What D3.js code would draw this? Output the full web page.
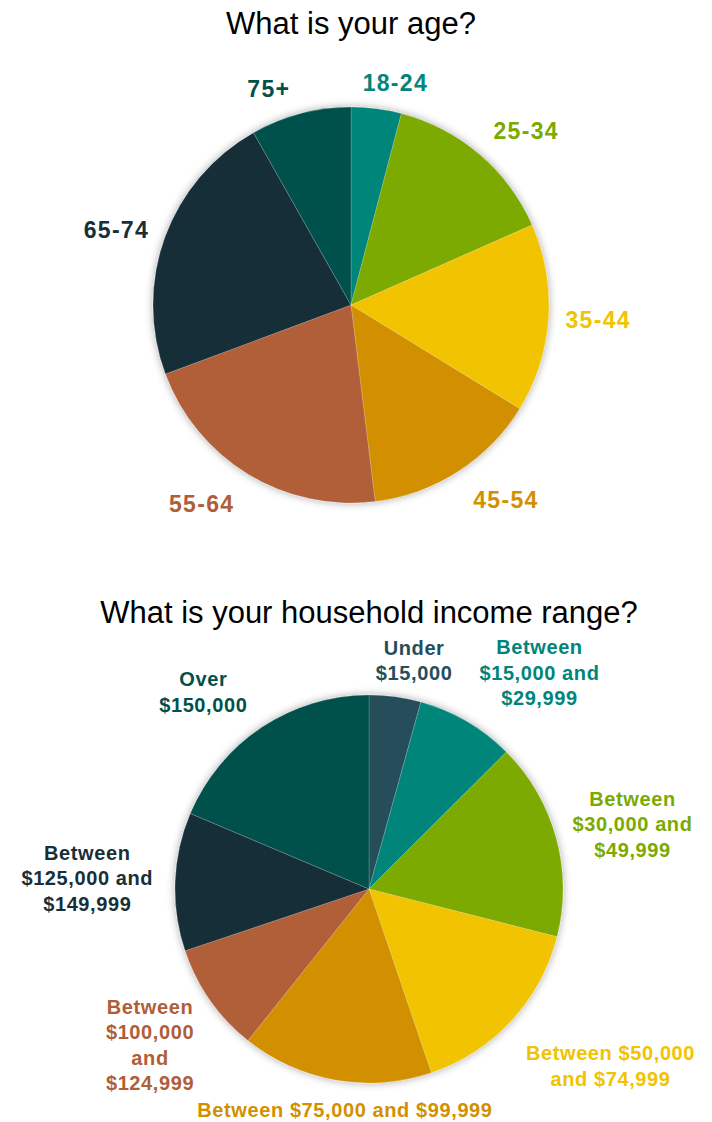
<!DOCTYPE html>
<html>
<head>
<meta charset="utf-8">
<script src="https://cdn.jsdelivr.net/npm/d3@7/dist/d3.min.js"></script>
<style>
  body { margin: 0; background: #fff; }
  svg { display: block; }
  .title { font-family: "Liberation Sans", Arial, sans-serif; font-size: 31px; fill: #000; }
  .lbl { font-family: "Liberation Sans", Arial, sans-serif; font-weight: bold; }
</style>
</head>
<body>
<svg width="712" height="1122"></svg>
<script>
// age question
var ageLabels = ["18-24", "25-34", "35-44", "45-54", "55-64", "65-74", "75+"];
var ageValues = [4.1, 14.3, 15.4, 14.3, 21.3, 22.5, 8.2];
var ageColors = ["#00857a", "#7baa00", "#f1c300", "#d29000", "#b05e38", "#182f38", "#00514b"];

// income question
var incomeLabels = [
    ["Under", "$15,000"],
    ["Between", "$15,000 and", "$29,999"],
    ["Between", "$30,000 and", "$49,999"],
    ["Between $50,000", "and $74,999"],
    ["Between $75,000 and $99,999"],
    ["Between", "$100,000", "and", "$124,999"],
    ["Between", "$125,000 and", "$149,999"],
    ["Over", "$150,000"]
];
var incomeValues = [4.3, 8.2, 16.4, 15.8, 15.9, 9.1, 11.5, 18.6];
var incomeColors = ["#264d5a", "#00857a", "#7baa00", "#f1c300", "#d29000", "#b05e38", "#182f38", "#00514b"];

// small hand fixes for label placement (excel moved some of them)
var ageNudge = [[0, 0], [3, -2], [0, -2], [6, 5], [-5, 6], [0, 7], [-6, 1]];
var incomeNudge = [[-4, 6], [4, 4], [0, 29], [2, 8], [114, 0], [-2, -16], [-5, 3], [-5, 4]];

var svg = d3.select("svg");

var defs = svg.append("defs");
var glow = defs.append("filter").attr("id", "glow")
    .attr("x", "-10%").attr("y", "-10%").attr("width", "120%").attr("height", "120%");
glow.append("feGaussianBlur").attr("in", "SourceAlpha").attr("stdDeviation", 4).attr("result", "b");
glow.append("feComponentTransfer").attr("in", "b").attr("result", "s")
    .append("feFuncA").attr("type", "linear").attr("slope", 0.35);
var merge = glow.append("feMerge");
merge.append("feMergeNode").attr("in", "s");
merge.append("feMergeNode").attr("in", "SourceGraphic");

function clamp(v) { return Math.max(-1, Math.min(1, v)); }

function drawPie(opts) {
    var pie = d3.pie().sort(null).value(function(d) { return d; });
    var arcs = pie(opts.values);
    var path = d3.arc().innerRadius(0).outerRadius(opts.r);

    svg.append("text")
        .attr("class", "title")
        .attr("x", opts.cx)
        .attr("y", opts.titleY)
        .attr("text-anchor", "middle")
        .text(opts.title);

    var g = svg.append("g").attr("transform", "translate(" + opts.cx + "," + opts.cy + ")");

    g.append("g").attr("filter", "url(#glow)")
      .selectAll("path")
      .data(arcs)
      .enter().append("path")
        .attr("d", path)
        .attr("fill", function(d, i) { return opts.colors[i]; })
        .attr("stroke", "rgba(255,255,255,0.35)")
        .attr("stroke-width", 0.5);

    var R = opts.r + opts.gap;
    var capH = opts.fontSize * 0.716;

    arcs.forEach(function(d, i) {
        var lines = opts.labels[i];
        if (!Array.isArray(lines)) lines = [lines];
        var a = (d.startAngle + d.endAngle) / 2;
        var s = Math.sin(a), c = Math.cos(a);

        var t = g.append("text")
            .attr("class", "lbl")
            .attr("text-anchor", "middle")
            .attr("fill", opts.colors[i])
            .style("font-size", opts.fontSize + "px")
            .style("letter-spacing", opts.spacing + "px");
        lines.forEach(function(l) { t.append("tspan").attr("x", 0).text(l); });

        var w = t.node().getBBox().width;
        var h = lines.length * opts.lineH;
        var x = R * s + w / 2 * clamp(4 * s) + opts.nudge[i][0];
        var y = -R * c - h / 2 * clamp(4 * c) + opts.nudge[i][1];
        var y0 = y - (lines.length - 1) * opts.lineH / 2 + capH / 2;

        t.selectAll("tspan")
            .attr("x", x)
            .attr("y", function(l, j) { return y0 + j * opts.lineH; });
    });
}

drawPie({
    title: "What is your age?", titleY: 33.5,
    cx: 351, cy: 305, r: 198, gap: 17,
    values: ageValues, labels: ageLabels, colors: ageColors, nudge: ageNudge,
    fontSize: 23, spacing: 1.3, lineH: 18
});

drawPie({
    title: "What is your household income range?", titleY: 623,
    cx: 369, cy: 889, r: 194, gap: 17,
    values: incomeValues, labels: incomeLabels, colors: incomeColors, nudge: incomeNudge,
    fontSize: 20, spacing: 0.6, lineH: 25.5
});
</script>
</body>
</html>
